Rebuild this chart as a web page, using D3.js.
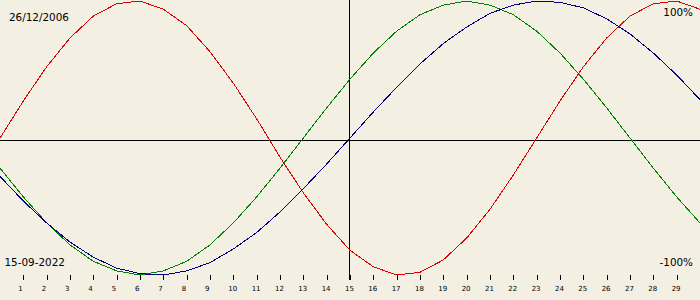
<!DOCTYPE html>
<html>
<head>
<meta charset="utf-8">
<script src="https://cdn.jsdelivr.net/npm/d3@7"></script>
<style>
  html, body { margin: 0; padding: 0; background: #f3efe3; }
  svg { display: block; }
  text { font-family: "DejaVu Sans", sans-serif; fill: #000; }
</style>
</head>
<body>
<div id="chart"></div>
<script>
// days shown along the bottom (0 and 30 sit on the edges, unlabeled)
const days = d3.range(0, 31);
const dayTicks = d3.range(1, 30);

// values in percent for each day
const physical = [0, 27, 52, 73, 89, 98, 100, 94, 82, 63, 40, 14, -14, -40, -63, -82,
   -94, -100, -98, -89, -73, -52, -27, 0, 27, 52, 73, 89, 98, 100, 94];
const emotional = [-22, -43, -62, -78, -90, -97, -100, -97, -90, -78, -62, -43, -22, 0, 22, 43,
   62, 78, 90, 97, 100, 97, 90, 78, 62, 43, 22, 0, -22, -43, -62];
const intellectual = [-28, -46, -62, -76, -87, -95, -99, -100, -97, -91, -81, -69, -54, -37, -19, 0,
   19, 37, 54, 69, 81, 91, 97, 100, 99, 95, 87, 76, 62, 46, 28];

const birthLabel = '26/12/2006';
const dateLabel = '15-09-2022';
const today = 15;
const topLabel = '100%';
const bottomLabel = '-100%';

const series = [
   { values: physical, color: '#dc0000' },
   { values: emotional, color: '#008000' },
   { values: intellectual, color: '#000080' }
];

const width = 700;
const height = 300;

const svg = d3.select('#chart').append('svg')
   .attr('width', width)
   .attr('height', height);

svg.append('rect')
   .attr('width', width)
   .attr('height', height)
   .attr('fill', '#f3efe3');

const x = d3.scaleLinear().domain([0, 30]).range([0, width]);
const y = d3.scaleLinear().domain([-100, 100]).range([275, 1]);

// zero line and "today" line
svg.append('line')
   .attr('x1', 0).attr('x2', width)
   .attr('y1', 140.5).attr('y2', 140.5)
   .attr('stroke', '#000');

svg.append('line')
   .attr('x1', Math.round(x(today)) - 0.5).attr('x2', Math.round(x(today)) - 0.5)
   .attr('y1', 0).attr('y2', 280)
   .attr('stroke', '#000');

// day axis
const axis = svg.append('g');
axis.selectAll('line')
   .data(dayTicks)
   .enter().append('line')
      .attr('x1', d => Math.round(x(d)) + 0.5)
      .attr('x2', d => Math.round(x(d)) + 0.5)
      .attr('y1', 275).attr('y2', 280)
      .attr('stroke', '#000');

axis.selectAll('text')
   .data(dayTicks)
   .enter().append('text')
      .attr('x', d => x(d) - 5)
      .attr('y', 291)
      .attr('font-size', '7px')
      .text(d => d);

// curves
const line = d3.line()
   .x((d, i) => x(days[i]))
   .y(d => y(d));

svg.selectAll('path.curve')
   .data(series)
   .enter().append('path')
      .attr('class', 'curve')
      .attr('d', s => line(s.values))
      .attr('fill', 'none')
      .attr('stroke', s => s.color)
      .attr('stroke-width', 1)
      .attr('shape-rendering', 'crispEdges');

// labels
svg.append('text')
   .attr('x', 9).attr('y', 20.5)
   .attr('font-size', '10.4px')
   .text(birthLabel);

svg.append('text')
   .attr('x', 4.5).attr('y', 266)
   .attr('font-size', '10.4px')
   .text(dateLabel);

svg.append('text')
   .attr('x', 693).attr('y', 16)
   .attr('text-anchor', 'end')
   .attr('font-size', '10.4px')
   .text(topLabel);

svg.append('text')
   .attr('x', 693).attr('y', 266)
   .attr('text-anchor', 'end')
   .attr('font-size', '10.4px')
   .text(bottomLabel);
</script>
</body>
</html>
